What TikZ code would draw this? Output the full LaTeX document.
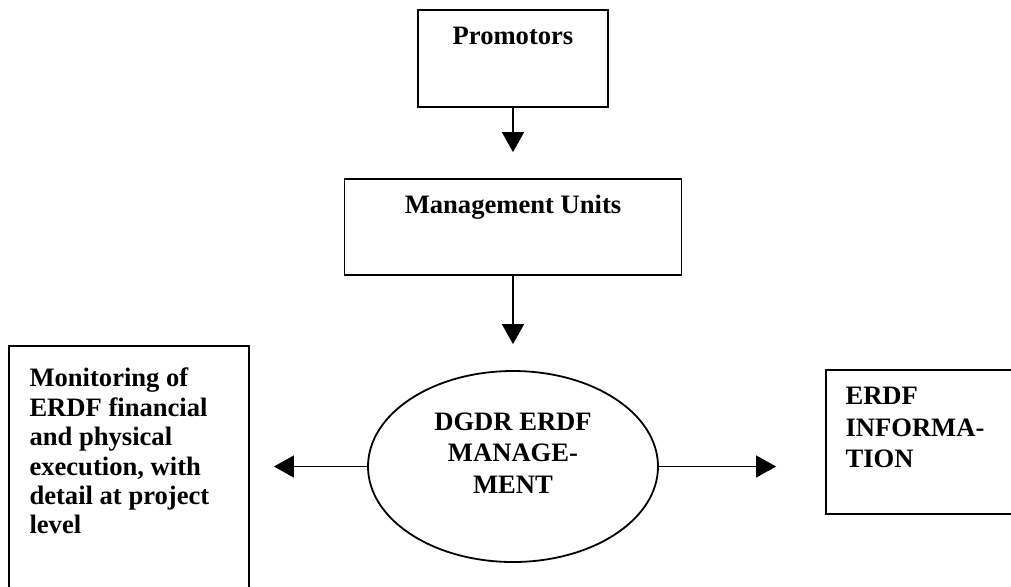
\documentclass[tikz,border=0pt]{standalone}
\usepackage{fontspec}
\setmainfont{Liberation Serif}
\usepackage{tikz}
\usetikzlibrary{arrows.meta,shapes.geometric}
\tikzstyle{es} = [-{Triangle[length=10pt,width=11pt]}, line width=0.6pt]
\tikzstyle{box} = [draw, line width=0.9pt, inner sep=0pt]
\tikzstyle{txt} = [inner sep=0pt, font=\fontsize{13.3}{14.7}\selectfont\bfseries]
\tikzstyle{txtw} = [inner sep=0pt, font=\fontsize{13.3}{15.75}\selectfont\bfseries]

\begin{document}
\begin{tikzpicture}[x=0.5pt,y=-0.5pt]
			\useasboundingbox (0,0) rectangle (1011,586);
			\node[box, minimum width=95pt, minimum height=48.5pt] (prom) at (513,58.5) {};
			\node[txt, anchor=north] (promtxt) at ([yshift=-8.6pt]prom.north) {Promotors};
			\node[box, minimum width=168.5pt, minimum height=48pt] (mu) at (513,227) {};
			\node[txt, anchor=north] (mutxt) at ([yshift=-8.2pt]mu.north) {Management Units};
			\node[box, ellipse, minimum width=145pt, minimum height=95.5pt] (ell) at (513,466.5) {};
			\node[txtw, align=center] (elltxt) at ([yshift=6.9pt]ell.center) {DGDR ERDF\\MANAGE-\\MENT};
			\node[box, minimum width=120pt, minimum height=125pt] (lbox) at (129,471) {};
			\node[txt, align=left, anchor=north west] (lboxtxt) at ([xshift=10.5pt,yshift=-11.3pt]lbox.north west) {Monitoring of\\ERDF financial\\and physical\\execution, with\\detail at project\\level};
			\node[box, minimum width=97.5pt, minimum height=72pt] (rbox) at (923.5,442) {};
			\node[txtw, align=left, anchor=north west] (rboxtxt) at ([xshift=10pt,yshift=-8.8pt]rbox.north west) {ERDF\\INFORMA-\\TION};
			\draw[es, shorten >=13pt] (prom.south) -- (mu.north);
			\draw[es, shorten >=13pt] (mu.south) -- (ell.north);
			\draw[es, shorten >=12pt] (ell.west) -- (ell.west -| lbox.east);
			\draw[es, shorten >=24.5pt] (ell.east) -- (ell.east -| rbox.west);
		\end{tikzpicture}
\end{document}
